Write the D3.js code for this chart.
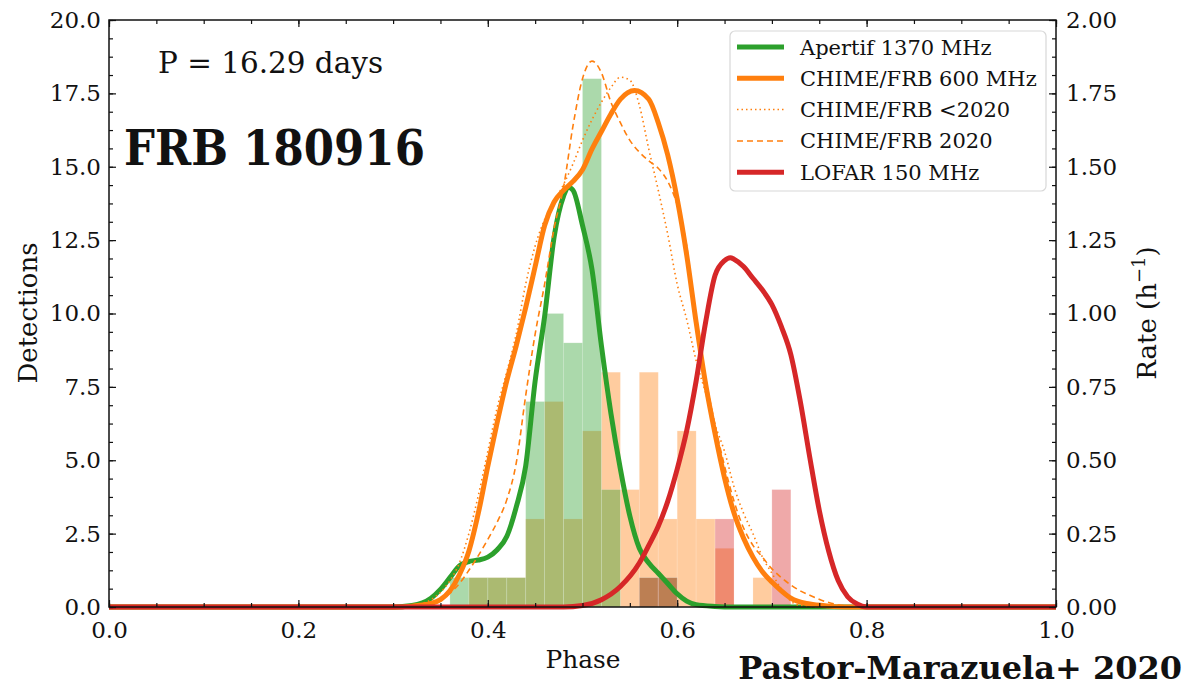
<!DOCTYPE html>
<html>
<head>
<meta charset="utf-8">
<script src="https://cdn.jsdelivr.net/npm/d3@7"></script>
<style>
  body { margin: 0; background: #fff; }
  text { font-family: "DejaVu Serif", serif; fill: #111; }
</style>
</head>
<body>
<div id="wrapper"></div>
<script>
// histogram bins (left edge of each 0.02 wide bin)
const binStarts = [0.36, 0.38, 0.40, 0.42, 0.44, 0.46, 0.48, 0.50, 0.52, 0.54, 0.56, 0.58, 0.60, 0.62, 0.64, 0.66, 0.68, 0.70]
const binWidth = 0.02
const chimeCounts   = [0, 1, 1, 1, 3, 7, 3, 6, 8, 4, 8, 3, 6, 3, 2, 0, 1, 0]
const apertifCounts = [1, 1, 1, 1, 7, 10, 9, 18, 4, 0, 1, 1, 0, 0, 0, 0, 0, 0]
const lofarCounts   = [0, 0, 0, 0, 0, 0, 0, 0, 0, 0, 1, 1, 0, 0, 3, 0, 0, 4]

// rate curves (h^-1)
const apertifPhase = [0, 0.30, 0.32, 0.34, 0.35, 0.36, 0.37, 0.38, 0.39, 0.40, 0.41, 0.42, 0.43, 0.44, 0.45, 0.46, 0.47, 0.48, 0.485, 0.49, 0.50, 0.51, 0.52, 0.53, 0.54, 0.55, 0.56, 0.57, 0.58, 0.59, 0.60, 0.61, 0.62, 0.64, 0.66, 1]
const apertifRate  = [0, 0, 0.005, 0.03, 0.06, 0.10, 0.14, 0.155, 0.16, 0.17, 0.195, 0.24, 0.34, 0.48, 0.77, 0.99, 1.26, 1.40, 1.43, 1.42, 1.30, 1.15, 0.89, 0.66, 0.47, 0.31, 0.20, 0.15, 0.115, 0.08, 0.045, 0.02, 0.008, 0.002, 0, 0]

const chimePhase = [0, 0.30, 0.32, 0.34, 0.35, 0.36, 0.37, 0.38, 0.39, 0.40, 0.41, 0.42, 0.43, 0.44, 0.45, 0.46, 0.47, 0.48, 0.49, 0.50, 0.51, 0.52, 0.53, 0.54, 0.555, 0.57, 0.58, 0.59, 0.60, 0.61, 0.62, 0.63, 0.64, 0.65, 0.66, 0.67, 0.68, 0.69, 0.70, 0.71, 0.72, 0.74, 0.76, 0.78, 1]
const chimeRate  = [0, 0, 0.003, 0.012, 0.025, 0.055, 0.11, 0.19, 0.32, 0.48, 0.63, 0.77, 0.89, 1.02, 1.16, 1.30, 1.38, 1.42, 1.45, 1.49, 1.56, 1.62, 1.68, 1.73, 1.76, 1.73, 1.65, 1.54, 1.39, 1.20, 0.97, 0.76, 0.59, 0.44, 0.32, 0.235, 0.17, 0.12, 0.085, 0.055, 0.03, 0.01, 0.003, 0, 0]

const chimeOldPhase = [0, 0.30, 0.32, 0.34, 0.36, 0.37, 0.38, 0.39, 0.40, 0.41, 0.42, 0.43, 0.44, 0.45, 0.46, 0.47, 0.48, 0.49, 0.50, 0.51, 0.52, 0.53, 0.54, 0.55, 0.56, 0.57, 0.58, 0.59, 0.60, 0.61, 0.62, 0.63, 0.64, 0.65, 0.66, 0.67, 0.68, 0.69, 0.70, 0.71, 0.72, 0.73, 0.75, 1]
const chimeOldRate  = [0, 0, 0.005, 0.025, 0.09, 0.15, 0.25, 0.38, 0.53, 0.68, 0.80, 0.93, 1.10, 1.23, 1.32, 1.38, 1.44, 1.51, 1.59, 1.66, 1.72, 1.77, 1.805, 1.795, 1.71, 1.56, 1.42, 1.27, 1.10, 0.98, 0.84, 0.73, 0.62, 0.53, 0.41, 0.32, 0.25, 0.17, 0.115, 0.06, 0.02, 0.005, 0, 0]

const chimeNewPhase = [0, 0.30, 0.32, 0.34, 0.35, 0.36, 0.37, 0.38, 0.39, 0.40, 0.41, 0.42, 0.43, 0.44, 0.45, 0.46, 0.47, 0.48, 0.49, 0.50, 0.51, 0.52, 0.53, 0.54, 0.55, 0.56, 0.57, 0.58, 0.59, 0.60, 0.61, 0.62, 0.63, 0.64, 0.65, 0.66, 0.67, 0.68, 0.69, 0.70, 0.71, 0.72, 0.73, 0.74, 0.76, 0.78, 0.80, 1]
const chimeNewRate  = [0, 0, 0.003, 0.012, 0.025, 0.047, 0.08, 0.125, 0.175, 0.23, 0.29, 0.365, 0.49, 0.72, 0.93, 1.10, 1.29, 1.43, 1.64, 1.80, 1.86, 1.82, 1.72, 1.65, 1.59, 1.55, 1.52, 1.495, 1.45, 1.37, 1.23, 0.97, 0.78, 0.62, 0.48, 0.36, 0.27, 0.21, 0.17, 0.13, 0.10, 0.075, 0.055, 0.04, 0.015, 0.003, 0, 0]

const lofarPhase = [0, 0.48, 0.50, 0.52, 0.54, 0.56, 0.57, 0.58, 0.59, 0.60, 0.61, 0.62, 0.63, 0.64, 0.65, 0.656, 0.66, 0.67, 0.68, 0.69, 0.70, 0.71, 0.72, 0.73, 0.74, 0.75, 0.76, 0.77, 0.78, 0.79, 0.80, 1]
const lofarRate  = [0, 0, 0.005, 0.025, 0.07, 0.15, 0.21, 0.275, 0.36, 0.47, 0.60, 0.77, 0.97, 1.13, 1.18, 1.19, 1.185, 1.16, 1.12, 1.08, 1.03, 0.955, 0.86, 0.70, 0.51, 0.33, 0.19, 0.09, 0.035, 0.01, 0, 0]

const xTicks = [0, 0.2, 0.4, 0.6, 0.8, 1.0]
const leftTicks = [0, 2.5, 5, 7.5, 10, 12.5, 15, 17.5, 20]
const rightTicks = [0, 0.25, 0.5, 0.75, 1.0, 1.25, 1.5, 1.75, 2.0]

const legendItems = [
  { label: "Apertif 1370 MHz", color: "#2ca02c", width: 5, dash: null },
  { label: "CHIME/FRB 600 MHz", color: "#ff7f0e", width: 5, dash: null },
  { label: "CHIME/FRB <2020", color: "#ff7f0e", width: 1.5, dash: "1.5,3" },
  { label: "CHIME/FRB 2020", color: "#ff7f0e", width: 1.5, dash: "6,4" },
  { label: "LOFAR 150 MHz", color: "#d62728", width: 5, dash: null }
]

const dimensions = {
  width: 1186,
  height: 690,
  margin: { top: 20, right: 130, bottom: 83, left: 109 }
}
dimensions.boundedWidth = dimensions.width - dimensions.margin.left - dimensions.margin.right
dimensions.boundedHeight = dimensions.height - dimensions.margin.top - dimensions.margin.bottom

const wrapper = d3.select("#wrapper")
  .append("svg")
    .attr("width", dimensions.width)
    .attr("height", dimensions.height)

const bounds = wrapper.append("g")
  .attr("transform", `translate(${dimensions.margin.left},${dimensions.margin.top})`)

const xScale = d3.scaleLinear().domain([0, 1]).range([0, dimensions.boundedWidth])
const yScale = d3.scaleLinear().domain([0, 20]).range([dimensions.boundedHeight, 0])
const rateScale = d3.scaleLinear().domain([0, 2]).range([dimensions.boundedHeight, 0])

// histograms: CHIME first, Apertif over it, LOFAR on top
const drawHist = (counts, color) => {
  bounds.append("g")
    .selectAll("rect")
    .data(binStarts.map((b, i) => ({ start: b, count: counts[i] })).filter(d => d.count > 0))
    .enter().append("rect")
      .attr("x", d => xScale(d.start))
      .attr("width", d => xScale(d.start + binWidth) - xScale(d.start))
      .attr("y", d => yScale(d.count))
      .attr("height", d => yScale(0) - yScale(d.count))
      .attr("fill", color)
      .attr("fill-opacity", 0.4)
      .attr("stroke", "#fff")
      .attr("stroke-opacity", 0.2)
      .attr("stroke-width", 0.8)
}
drawHist(chimeCounts, "#ff7f0e")
drawHist(apertifCounts, "#2ca02c")
drawHist(lofarCounts, "#d62728")

const lineGen = d3.line()
  .x(d => xScale(d[0]))
  .y(d => rateScale(d[1]))
  .curve(d3.curveMonotoneX)

const drawCurve = (phase, rate, color, width, dash) => {
  const path = bounds.append("path")
    .datum(phase.map((p, i) => [p, rate[i]]))
    .attr("d", lineGen)
    .attr("fill", "none")
    .attr("stroke", color)
    .attr("stroke-width", width)
    .attr("stroke-linejoin", "round")
  if (dash) path.attr("stroke-dasharray", dash)
}
drawCurve(apertifPhase, apertifRate, "#2ca02c", 5, null)
drawCurve(chimePhase, chimeRate, "#ff7f0e", 5, null)
drawCurve(chimeOldPhase, chimeOldRate, "#ff7f0e", 1.6, "1.5,3.2")
drawCurve(chimeNewPhase, chimeNewRate, "#ff7f0e", 1.6, "6,4")
drawCurve(lofarPhase, lofarRate, "#d62728", 5, null)

// axes, ticks pointing inward
const tickFont = g => g.selectAll("text")
  .style("font-family", "DejaVu Serif, serif")
  .style("font-size", "23px")
  .attr("fill", "#111")

const styleAxis = g => {
  g.select(".domain").remove()
  g.selectAll("line").attr("stroke", "#111").attr("stroke-width", 1.2)
}

const xMinor = d3.range(0, 1.0001, 0.05)
const yMinor = d3.range(0, 20.0001, 0.625)
const rMinor = d3.range(0, 2.0001, 0.0625)

bounds.append("g")
  .attr("transform", `translate(0,${dimensions.boundedHeight})`)
  .call(d3.axisBottom(xScale).tickValues(xMinor).tickSize(-4).tickFormat(""))
  .call(styleAxis)
bounds.append("g")
  .attr("transform", `translate(0,${dimensions.boundedHeight})`)
  .call(d3.axisBottom(xScale).tickValues(xTicks).tickSize(-7).tickPadding(15).tickFormat(d3.format(".1f")))
  .call(styleAxis).call(tickFont)
bounds.append("g")
  .call(d3.axisTop(xScale).tickValues(xMinor).tickSize(-4).tickFormat(""))
  .call(styleAxis)
bounds.append("g")
  .call(d3.axisTop(xScale).tickValues(xTicks).tickSize(-7).tickFormat(""))
  .call(styleAxis)

bounds.append("g")
  .call(d3.axisLeft(yScale).tickValues(yMinor).tickSize(-4).tickFormat(""))
  .call(styleAxis)
bounds.append("g")
  .call(d3.axisLeft(yScale).tickValues(leftTicks).tickSize(-7).tickPadding(8).tickFormat(d3.format(".1f")))
  .call(styleAxis).call(tickFont)

bounds.append("g")
  .attr("transform", `translate(${dimensions.boundedWidth},0)`)
  .call(d3.axisRight(rateScale).tickValues(rMinor).tickSize(-4).tickFormat(""))
  .call(styleAxis)
bounds.append("g")
  .attr("transform", `translate(${dimensions.boundedWidth},0)`)
  .call(d3.axisRight(rateScale).tickValues(rightTicks).tickSize(-7).tickPadding(10).tickFormat(d3.format(".2f")))
  .call(styleAxis).call(tickFont)

bounds.append("rect")
  .attr("width", dimensions.boundedWidth)
  .attr("height", dimensions.boundedHeight)
  .attr("fill", "none")
  .attr("stroke", "#111")
  .attr("stroke-width", 1.5)

// axis labels
wrapper.append("text")
  .attr("x", 583)
  .attr("y", 668)
  .attr("text-anchor", "middle")
  .style("font-size", "24px")
  .attr("textLength", 75)
  .attr("lengthAdjust", "spacingAndGlyphs")
  .text("Phase")

wrapper.append("text")
  .attr("transform", `translate(37,313) rotate(-90)`)
  .attr("text-anchor", "middle")
  .style("font-size", "26px")
  .text("Detections")

const rateLabel = wrapper.append("text")
  .attr("transform", `translate(1156,313) rotate(-90)`)
  .attr("text-anchor", "middle")
  .style("font-size", "26px")
rateLabel.append("tspan").text("Rate (h")
rateLabel.append("tspan").attr("dy", -11).style("font-size", "18px").text("\u22121")
rateLabel.append("tspan").attr("dy", 11).text(")")

// annotations
wrapper.append("text")
  .attr("x", 158)
  .attr("y", 73)
  .style("font-size", "29px")
  .attr("textLength", 225)
  .attr("lengthAdjust", "spacingAndGlyphs")
  .text("P = 16.29 days")

wrapper.append("text")
  .attr("x", 124)
  .attr("y", 165)
  .style("font-size", "49px")
  .style("font-weight", "bold")
  .attr("textLength", 301)
  .attr("lengthAdjust", "spacingAndGlyphs")
  .text("FRB 180916")

wrapper.append("text")
  .attr("x", 1182)
  .attr("y", 679)
  .attr("text-anchor", "end")
  .style("font-size", "32px")
  .style("font-weight", "bold")
  .text("Pastor-Marazuela+ 2020")

// legend
const legend = wrapper.append("g")
  .attr("transform", "translate(730,31)")

legend.append("rect")
  .attr("width", 316)
  .attr("height", 160)
  .attr("rx", 5)
  .attr("fill", "#fff")
  .attr("fill-opacity", 0.85)
  .attr("stroke", "#d8d8d8")
  .attr("stroke-width", 1.2)

const entries = legend.selectAll(".entry")
  .data(legendItems)
  .enter().append("g")
    .attr("transform", (d, i) => `translate(0,${16 + i * 31.3})`)

entries.append("line")
  .attr("x1", 7)
  .attr("x2", 54)
  .attr("stroke", d => d.color)
  .attr("stroke-width", d => d.width)
  .attr("stroke-dasharray", d => d.dash)

entries.append("text")
  .attr("x", 70)
  .attr("y", 7.5)
  .style("font-size", "21px")
  .text(d => d.label)
</script>
</body>
</html>
